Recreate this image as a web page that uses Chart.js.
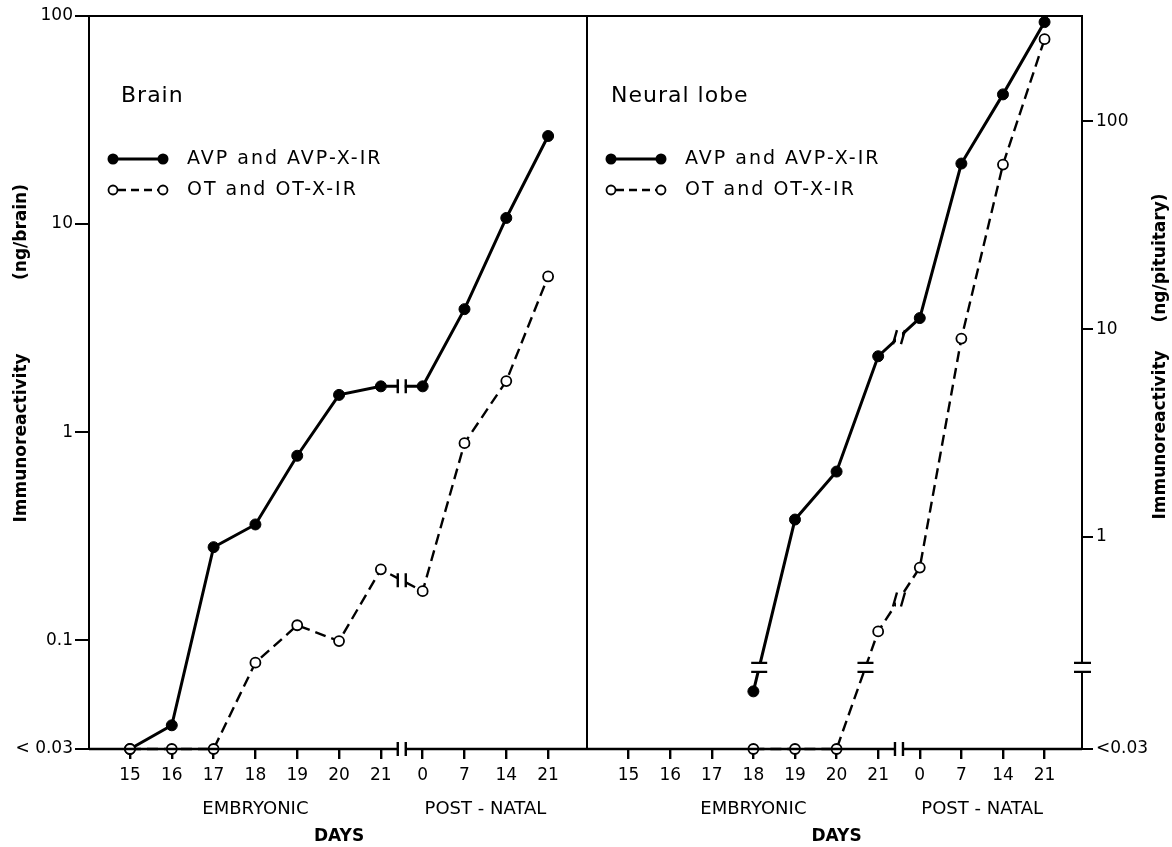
<!DOCTYPE html>
<html>
<head>
<meta charset="utf-8">
<script src="https://cdn.jsdelivr.net/npm/chart.js@4.4.1/dist/chart.umd.min.js"></script>
<style>
  html, body { margin: 0; padding: 0; background: #fff; }
  #wrap { position: relative; width: 1172px; height: 847px; overflow: hidden; }
  #brainChart { position: absolute; left: 0; top: 0; }
  #lobeChart { position: absolute; left: 575px; top: 0; }
</style>
</head>
<body>
<div id="wrap">
  <canvas id="brainChart" width="600" height="847"></canvas>
  <canvas id="lobeChart" width="597" height="847"></canvas>
</div>
<script>
// days: embryonic 15..21, then post-natal 0..21
const DAYS = ['15', '16', '17', '18', '19', '20', '21', '0', '7', '14', '21'];
const LOD = 0.03; // "< 0.03" = below detection

// brain (ng/brain)
const BRAIN_AVP = [LOD, 0.039, 0.28, 0.36, 0.77, 1.51, 1.66, 1.66, 3.9, 10.7, 26.5];
const BRAIN_OT = [LOD, LOD, LOD, 0.078, 0.118, 0.099, 0.219, 0.172, 0.885, 1.76, 5.6];
const BRAIN_TICKS = [0.03, 0.1, 1, 10, 100];

// neural lobe (ng/pituitary), broken axis: bottom of the axis is "<0.03"
const LOBE_AVP = [null, null, null, 0.18, 1.21, 2.06, 7.4, 11.3, 62.7, 135, 301];
const LOBE_OT = [null, null, null, LOD, LOD, LOD, 0.35, 0.71, 9.0, 62, 249];
const LOBE_TICKS = [1, 10, 100];
const LOBE_MIN = 0.095;
const LOBE_MAX = 322;
const LOBE_BREAK = 0.235;

const DAY_BREAK = 6.5; // between embryonic 21 and post-natal 0
const FONT = "'DejaVu Sans', sans-serif";

Chart.defaults.font.family = FONT;
Chart.defaults.color = '#000';

function toPoints(vals, floor) {
    return vals.map((v, i) => ({ x: i, y: v === LOD ? floor : v }));
}

function makeDatasets(avp, ot, floor) {
    return [
        {
            label: 'OT and OT-X-IR',
            data: toPoints(ot, floor),
            borderColor: '#000', borderWidth: 2.4, borderDash: [11, 6],
            pointRadius: 5, pointBackgroundColor: '#fff',
            pointBorderColor: '#000', pointBorderWidth: 1.8,
            tension: 0, clip: false
        },
        {
            label: 'AVP and AVP-X-IR',
            data: toPoints(avp, floor),
            borderColor: '#000', borderWidth: 3,
            pointRadius: 5.5, pointBackgroundColor: '#000',
            pointBorderColor: '#000', pointBorderWidth: 1,
            tension: 0, clip: false
        }
    ];
}

// frame, axis breaks and the break marks on the lines
const panelDecor = {
    id: 'panelDecor',
    afterDatasetsDraw(chart, args, o) {
        const ctx = chart.ctx, a = chart.chartArea;
        const xs = chart.scales.x, ys = chart.scales.y;
        ctx.save();
        ctx.strokeStyle = '#000';
        ctx.lineWidth = 2;
        ctx.setLineDash([]);

        ctx.beginPath();
        ctx.moveTo(a.left, a.bottom);
        ctx.lineTo(a.left, a.top);
        ctx.lineTo(a.right, a.top);
        ctx.lineTo(a.right, a.bottom);
        ctx.stroke();

        // day axis with its break
        const xb = xs.getPixelForValue(DAY_BREAK);
        ctx.lineWidth = 2.4;
        ctx.beginPath();
        ctx.moveTo(a.left, a.bottom); ctx.lineTo(xb - 4, a.bottom);
        ctx.moveTo(xb + 4, a.bottom); ctx.lineTo(a.right, a.bottom);
        ctx.moveTo(xb - 4, a.bottom - 7); ctx.lineTo(xb - 4, a.bottom + 7);
        ctx.moveTo(xb + 4, a.bottom - 7); ctx.lineTo(xb + 4, a.bottom + 7);
        ctx.stroke();

        const yb = o.yBreak ? ys.getPixelForValue(o.yBreak) : null;
        if (yb !== null) {
            ctx.fillStyle = '#fff';
            ctx.fillRect(a.right - 3, yb - 4, 6, 8);
            ctx.beginPath();
            ctx.moveTo(a.right - 8, yb - 4.5); ctx.lineTo(a.right + 9, yb - 4.5);
            ctx.moveTo(a.right - 8, yb + 4.5); ctx.lineTo(a.right + 9, yb + 4.5);
            ctx.stroke();
        }

        chart.data.datasets.forEach((ds, di) => {
            const els = chart.getDatasetMeta(di).data;
            const sl = o.slant || 0;
            // break between embryonic and post-natal
            if (ds.data[6].y != null && ds.data[7].y != null) {
                const p = els[6], q = els[7];
                const t = (xb - p.x) / (q.x - p.x);
                const y = p.y + t * (q.y - p.y);
                ctx.fillStyle = '#fff';
                ctx.fillRect(xb - 3, y - 8, 6, 16);
                ctx.beginPath();
                ctx.moveTo(xb - 4 - sl, y + 7); ctx.lineTo(xb - 4 + sl, y - 7);
                ctx.moveTo(xb + 4 - sl, y + 7); ctx.lineTo(xb + 4 + sl, y - 7);
                ctx.stroke();
            }
            // break of the value axis
            if (yb !== null) {
                for (let i = 0; i < ds.data.length - 1; i++) {
                    if (ds.data[i].y == null || ds.data[i + 1].y == null) continue;
                    const p = els[i], q = els[i + 1];
                    if ((p.y - yb) * (q.y - yb) >= 0) continue;
                    const t = (yb - p.y) / (q.y - p.y);
                    const x = p.x + t * (q.x - p.x);
                    ctx.fillStyle = '#fff';
                    ctx.fillRect(x - 9, yb - 4, 18, 8);
                    ctx.beginPath();
                    ctx.moveTo(x - 8, yb - 4.5); ctx.lineTo(x + 8, yb - 4.5);
                    ctx.moveTo(x - 8, yb + 4.5); ctx.lineTo(x + 8, yb + 4.5);
                    ctx.stroke();
                }
            }
        });
        ctx.restore();
    },
    afterDraw(chart, args, o) {
        const ctx = chart.ctx, a = chart.chartArea, xs = chart.scales.x;
        ctx.save();
        ctx.fillStyle = '#000';
        ctx.strokeStyle = '#000';
        ctx.textBaseline = 'middle';

        // panel title
        ctx.textAlign = 'left';
        ctx.font = '22px ' + FONT;
        ctx.letterSpacing = '1px';
        ctx.fillText(o.title, a.left + o.titleDx, 96);

        // legend
        const x1 = a.left + 24, x2 = a.left + 74, tx = a.left + 98;
        ctx.lineWidth = 3;
        ctx.beginPath(); ctx.moveTo(x1, 159); ctx.lineTo(x2, 159); ctx.stroke();
        [x1, x2].forEach(x => { ctx.beginPath(); ctx.arc(x, 159, 5.5, 0, Math.PI * 2); ctx.fill(); });
        ctx.lineWidth = 2.4;
        ctx.setLineDash([8, 5]);
        ctx.beginPath(); ctx.moveTo(x1 + 5, 190); ctx.lineTo(x2 - 5, 190); ctx.stroke();
        ctx.setLineDash([]);
        ctx.lineWidth = 1.8;
        [x1, x2].forEach(x => {
            ctx.beginPath(); ctx.arc(x, 190, 4.5, 0, Math.PI * 2);
            ctx.fillStyle = '#fff'; ctx.fill(); ctx.stroke();
        });
        ctx.fillStyle = '#000';
        ctx.font = '19px ' + FONT;
        ctx.letterSpacing = '2px';
        ctx.fillText('AVP and AVP-X-IR', tx, 159);
        ctx.fillText('OT and OT-X-IR', tx, 190);

        // day groups under the axis
        ctx.letterSpacing = '0px';
        ctx.textAlign = 'center';
        ctx.font = '18px ' + FONT;
        ctx.fillText('EMBRYONIC', xs.getPixelForValue(3), 809);
        ctx.fillText('POST - NATAL', xs.getPixelForValue(8.5), 809);
        ctx.font = 'bold 17px ' + FONT;
        ctx.fillText('DAYS', xs.getPixelForValue(5), 837);

        // value axis title
        o.yTitle.forEach(part => {
            ctx.save();
            ctx.translate(o.yTitleX, part.y);
            ctx.rotate(-Math.PI / 2);
            ctx.fillText(part.text, 0, 0);
            ctx.restore();
        });
        ctx.restore();
    }
};

function dayAxis(min, max) {
    return {
        type: 'linear',
        min: min,
        max: max,
        afterBuildTicks: s => { s.ticks = DAYS.map((d, i) => ({ value: i })); },
        afterFit: s => { s.height = 98; },
        border: { display: false },
        grid: { drawOnChartArea: false, drawTicks: true, tickLength: 10, color: '#000', lineWidth: 2.4 },
        ticks: { padding: 6, font: { size: 17 }, callback: v => DAYS[v] }
    };
}

// brain panel
new Chart(document.getElementById('brainChart'), {
    type: 'line',
    data: { datasets: makeDatasets(BRAIN_AVP, BRAIN_OT, LOD) },
    plugins: [panelDecor],
    options: {
        responsive: false,
        animation: false,
        devicePixelRatio: 1,
        layout: { padding: { left: 0, right: 13, top: 16, bottom: 0 } },
        plugins: {
            legend: { display: false },
            tooltip: { enabled: false },
            panelDecor: {
                title: 'Brain', titleDx: 32,
                yTitleX: 22,
                yTitle: [{ text: 'Immunoreactivity', y: 438 }, { text: '(ng/brain)', y: 232 }]
            }
        },
        scales: {
            x: dayAxis(-0.98, 10.93),
            y: {
                type: 'logarithmic',
                min: 0.03,
                max: 100,
                afterBuildTicks: s => { s.ticks = BRAIN_TICKS.map(v => ({ value: v })); },
                afterFit: s => { s.width = 89; },
                border: { display: false },
                grid: { drawOnChartArea: false, drawTicks: true, tickLength: 14, color: '#000', lineWidth: 2 },
                ticks: { padding: 2, font: { size: 17 }, callback: v => v === 0.03 ? '< 0.03' : String(v) }
            }
        }
    }
});

// neural lobe panel
new Chart(document.getElementById('lobeChart'), {
    type: 'line',
    data: { datasets: makeDatasets(LOBE_AVP, LOBE_OT, LOBE_MIN) },
    plugins: [panelDecor],
    options: {
        responsive: false,
        animation: false,
        devicePixelRatio: 1,
        layout: { padding: { left: 12, right: 0, top: 16, bottom: 0 } },
        plugins: {
            legend: { display: false },
            tooltip: { enabled: false },
            panelDecor: {
                title: 'Neural lobe', titleDx: 24,
                yTitleX: 586,
                yTitle: [{ text: 'Immunoreactivity', y: 435 }, { text: '(ng/pituitary)', y: 258 }],
                yBreak: LOBE_BREAK,
                slant: 2
            }
        },
        scales: {
            x: dayAxis(-1.0, 10.9),
            y: {
                type: 'logarithmic',
                position: 'right',
                min: LOBE_MIN,
                max: LOBE_MAX,
                afterBuildTicks: s => { s.ticks = [LOBE_MIN].concat(LOBE_TICKS).map(v => ({ value: v })); },
                afterFit: s => { s.width = 90; },
                border: { display: false },
                grid: { drawOnChartArea: false, drawTicks: true, tickLength: 11, color: '#000', lineWidth: 2 },
                ticks: { padding: 3, font: { size: 17 }, callback: v => v === LOBE_MIN ? '<0.03' : String(v) }
            }
        }
    }
});
</script>
</body>
</html>
